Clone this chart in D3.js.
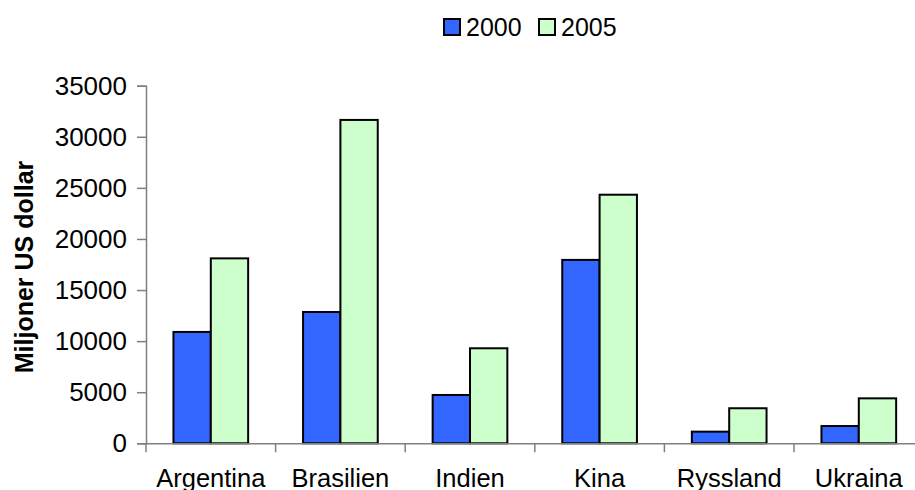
<!DOCTYPE html>
<html><head><meta charset="utf-8">
<script src="https://cdn.jsdelivr.net/npm/d3@7"></script>
<style>body{margin:0;background:#fff}svg{display:block}text{font-family:"Liberation Sans",Arial,sans-serif}</style>
</head><body><svg id="c" width="915" height="490"></svg>
<script>
const categories = ["Argentina","Brasilien","Indien","Kina","Ryssland","Ukraina"];
const seriesNames = ["2000","2005"];
const values2000 = [10900,12850,4730,17950,1140,1690];
const values2005 = [18100,31650,9300,24330,3430,4400];
const yTicks = [0,5000,10000,15000,20000,25000,30000,35000];
const colors = ["#3366FF","#CCFFCC"];
const yTitle = "Miljoner US dollar";

const svg = d3.select("#c");
const plotLeft = 146, plotTop = 85.7, plotBottom = 443.3, catStep = 129.6;
const y = d3.scaleLinear().domain([0,35000]).range([plotBottom, plotTop]);
const x0 = d3.scaleBand().domain(categories).range([plotLeft, plotLeft + catStep*categories.length]).padding(0);
const x1 = d3.scaleBand().domain(seriesNames).range([0, x0.bandwidth()]).paddingInner(0).paddingOuter(0.735);
const data = [values2000, values2005];

// bars
const g = svg.append("g");
categories.forEach((c,i)=>{
  seriesNames.forEach((s,j)=>{
    g.append("rect")
      .attr("x", x0(c)+x1(s)).attr("y", y(data[j][i]))
      .attr("width", x1.bandwidth()).attr("height", y(0)-y(data[j][i]))
      .attr("fill", colors[j]).attr("stroke","#000").attr("stroke-width",2);
  });
});

// y axis
const ya = svg.append("g").attr("transform",`translate(${plotLeft},0)`)
  .call(d3.axisLeft(y).tickValues(yTicks).tickSize(9).tickPadding(10).tickFormat(d3.format("d")));
ya.select(".domain").attr("stroke","#808080").attr("stroke-width",1.5);
ya.selectAll(".tick line").attr("stroke","#808080").attr("stroke-width",1.5);
ya.selectAll("text").attr("font-size",26).attr("fill","#000").attr("font-family","Liberation Sans, Arial, sans-serif");

// x axis
const xa = svg.append("g").attr("transform",`translate(0,${plotBottom})`)
  .call(d3.axisBottom(x0).tickSize(0).tickPadding(26));
xa.select(".domain").attr("stroke","#808080").attr("stroke-width",1.5);
xa.selectAll("text").attr("font-size",25.5).attr("fill","#000").attr("font-family","Liberation Sans, Arial, sans-serif");
const bounds = categories.map(c=>x0(c)).concat([x0.range()[1]]);
xa.selectAll(".bt").data(bounds).enter().append("line").attr("class","bt")
  .attr("x1",d=>d).attr("x2",d=>d).attr("y1",0).attr("y2",9)
  .attr("stroke","#808080").attr("stroke-width",1.5);

// y title
svg.append("text").attr("transform","translate(33,267) rotate(-90)")
  .attr("text-anchor","middle").attr("font-size",25).attr("font-weight","bold").text(yTitle);

// legend
const legX = [444, 539];
seriesNames.forEach((s,j)=>{
  svg.append("rect").attr("x",legX[j]).attr("y",19).attr("width",16).attr("height",16)
    .attr("fill",colors[j]).attr("stroke","#000").attr("stroke-width",2);
  svg.append("text").attr("x",legX[j]+22).attr("y",36).attr("font-size",25).text(s);
});
</script></body></html>
